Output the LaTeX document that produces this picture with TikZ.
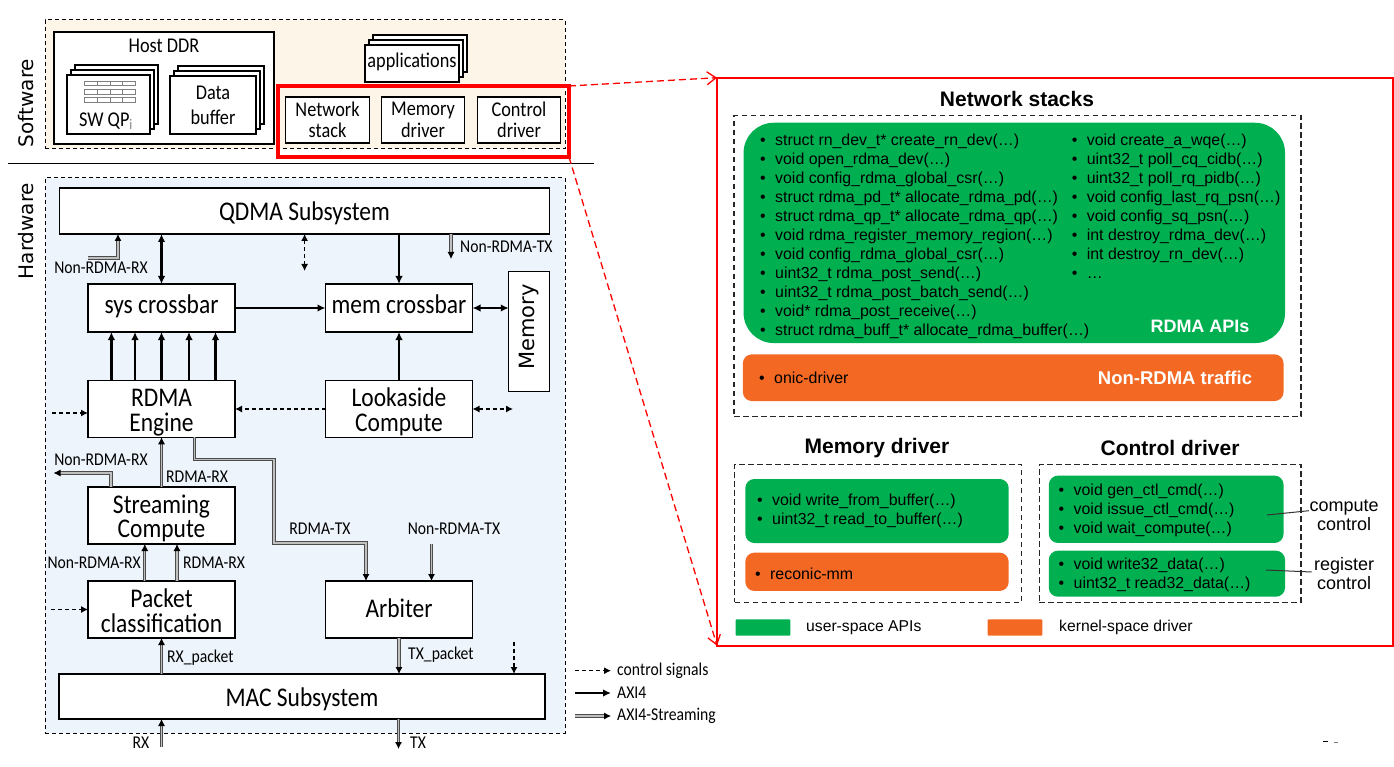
\documentclass[tikz,border=0pt]{standalone}
\usepackage{fontspec}
\usetikzlibrary{arrows.meta}
\setmainfont[FakeStretch=.87]{Carlito}
\newfontfamily\arialfont{Liberation Sans}
\newfontfamily\sidefont{DejaVu Sans}
\definecolor{apigreen}{RGB}{0,176,80}
\definecolor{drvorange}{RGB}{243,104,35}
\definecolor{swzone}{RGB}{253,246,232}
\definecolor{hwzone}{RGB}{237,244,251}
\begin{document}
\begin{tikzpicture}
[   x=1pt,y=-1pt,
    hwbox/.style={draw=black,fill=white,line width=1.1pt,inner sep=0pt,outer sep=0pt,align=center,minimum width=147pt,font=\fontsize{27}{24.5}\selectfont},
    twolines/.style={hwbox,text height=50pt,text depth=6pt},
    swbox/.style={draw=black,fill=white,line width=1.4pt,inner sep=0pt,outer sep=0pt,align=center,font=\fontsize{21}{21.5}\selectfont},
    zone/.style={draw=black,dash pattern=on 4pt off 3pt,line width=1pt,inner sep=0pt,outer sep=0pt,fill=#1},
    nbox/.style={draw=black!85,dash pattern=on 5.5pt off 3.5pt,line width=1.4pt,inner sep=0pt,outer sep=0pt},
    pill/.style={fill=#1,inner sep=0pt,outer sep=0pt,rounded corners=9pt},
    lbl/.style={inner sep=0pt,font=\fontsize{18}{18}\selectfont},
    head/.style={inner sep=0pt,font=\arialfont\bfseries\fontsize{21}{21}\selectfont},
    apitxt/.style={anchor=west,inner sep=0pt,text height=12pt,text depth=3pt,font=\arialfont\fontsize{15.9}{16}\selectfont},
    note/.style={inner sep=0pt,align=center,font=\arialfont\fontsize{18}{19}\selectfont},
    ctl/.style={dash pattern=on 4pt off 3pt,line width=1.1pt,-{Latex[length=7pt,width=7pt]}},
    axi/.style={line width=2.3pt,-{Latex[length=8pt,width=7.5pt]}},
    axis/.style={draw=black!70,double=gray!50,double distance=1.3pt,line width=.9pt,-{Latex[black,length=7pt,width=7pt]}},
    zoomline/.style={red,dash pattern=on 7pt off 4pt,line width=1.3pt,-{Straight Barb[length=9pt,width=13pt]}},
]
    \useasboundingbox (0,0) rectangle (1394,767);
    % software side
    \node[zone=swzone,minimum width=520pt,minimum height=129pt] (sw) at (305,84.5) {};
    \node[zone=hwzone,minimum width=520pt,minimum height=555pt] (hw) at (305,455.5) {};
    \coordinate (rule-a) at (8,164);
    \coordinate (rule-b) at (594,164);
    \draw[line width=1pt] (rule-a) -- (rule-b);
    \node[rotate=90,inner sep=0pt,font=\sidefont\fontsize{20}{20}\selectfont] (swname) at (26,103) {Software};
    \node[rotate=90,inner sep=0pt,font=\sidefont\fontsize{20}{20}\selectfont] (hwname) at (26,231) {Hardware};
    \node[swbox,minimum width=220pt,minimum height=112pt] (ddr) at (164,88) {};
    \node[inner sep=0pt,font=\fontsize{21}{21}\selectfont] (ddrname) at (164,46) {Host DDR};
    \foreach \d in {2,1,0}
    {   \node[swbox,minimum width=83pt,minimum height=59pt] (qp-\d) at ({108.5+4*\d},{104.5-5*\d}) {};
        \node[swbox,minimum width=86pt,minimum height=58pt] (buf-\d) at ({213+4*\d},{105-5*\d}) {};
        \node[swbox,minimum width=94pt,minimum height=37pt] (app-\d) at ({412+4*\d},{63.5-5*\d}) {};
    }
    \foreach \r in {0,1,2}
    {   \foreach \c in {0,1,2,3}
        {   \draw[draw=gray,fill=white,line width=.6pt] ({84.6+12.6*\c},{81+8.4*\r}) rectangle ++(12.6,4.8);
        }
    }
    \node[inner sep=0pt,font=\fontsize{21}{21}\selectfont] (qpname) at (106,121) {SW QP\textsubscript{\textcolor{gray}{i}}};
    \node[inner sep=0pt,align=center,font=\fontsize{21}{25}\selectfont] (bufname) at (213,105) {Data\\buffer};
    \node[inner sep=0pt,font=\fontsize{21}{21}\selectfont] (appname) at (412,62) {applications};
    \node[swbox,minimum width=83.5pt,minimum height=46pt] (netdrv) at (327.5,120) {Network\\stack};
    \node[swbox,minimum width=83.5pt,minimum height=46pt] (memdrv) at (423,120) {Memory\\driver};
    \node[swbox,minimum width=83.5pt,minimum height=46pt] (ctrldrv) at (519,120) {Control\\driver};
    \node[draw=red,line width=4pt,inner sep=0pt,outer sep=0pt,minimum width=291pt,minimum height=71pt] (drv) at (423.5,121.5) {};
    % hardware side
    \node[hwbox,minimum width=490pt,minimum height=46pt,text height=22pt,text depth=3pt] (qdma) at (304.5,211) {QDMA Subsystem};
    \node[hwbox,minimum height=48pt,text height=18pt,text depth=7pt] (sysbar) at (161.5,308) {sys crossbar};
    \node[hwbox,minimum height=48pt,text height=18pt,text depth=7pt] (membar) at (399,308) {mem crossbar};
    \node[hwbox,minimum width=40.5pt,minimum height=119.5pt] (memory) at (529,331.5) {};
    \node[rotate=90,inner sep=0pt,font=\sidefont\fontsize{21}{21}\selectfont] (memname) at (529,327) {Memory};
    \node[twolines,minimum height=56.5pt] (rdma) at (161.5,409) {RDMA\\Engine};
    \node[twolines,minimum height=56.5pt] (look) at (399,409) {Lookaside\\Compute};
    \node[twolines,minimum height=57pt] (stream) at (161.5,515.5) {Streaming\\Compute};
    \node[twolines,minimum height=57pt,text height=51pt] (packet) at (161.5,609.5) {Packet\\classification};
    \node[hwbox,minimum height=57pt,text height=20pt,text depth=5pt] (arbiter) at (399,609.5) {Arbiter};
    \node[hwbox,minimum width=486pt,minimum height=45pt,text height=22pt,text depth=2pt] (mac) at (302,696.5) {MAC Subsystem};
    % five read and write ports
    \foreach \i/\x in {1/111.4,2/135,3/161.5,4/189,5/215.5}
    {   \coordinate (port-\i) at (\x,0);
        \draw[axi] (rdma.north -| port-\i) -- (sysbar.south -| port-\i);
    }
    \draw[axi,{Latex[length=8pt,width=7.5pt]}-{Latex[length=8pt,width=7.5pt]}] (sysbar) -- (sysbar |- qdma.south);
    \draw[axi] (membar |- qdma.south) -- (membar);
    \draw[axi] (sysbar) -- (membar);
    \draw[axi,{Latex[length=8pt,width=7.5pt]}-{Latex[length=8pt,width=7.5pt]}] (membar) -- (membar -| memory.west);
    \draw[axi] (look) -- (membar);
    \coordinate (rxq-a) at (88,258);
    \coordinate (rxq-b) at (118,258);
    \draw[axis] (rxq-a) -- (rxq-b) -- (rxq-b |- qdma.south);
    \node[lbl] (rxqname) at (101,268) {Non-RDMA-RX};
    \coordinate (txq) at (451,259);
    \draw[axis] (txq |- qdma.south) -- (txq);
    \node[lbl,anchor=west] (txqname) at (460,247) {Non-RDMA-TX};
    \coordinate (cq) at (304.6,271);
    \draw[ctl,{Latex[length=7pt,width=7pt]}-{Latex[length=7pt,width=7pt]}] (cq) -- (cq |- qdma.south);
    \draw[ctl] (look) -- (look -| rdma.east);
    \coordinate (cl) at (513,409);
    \draw[ctl,{Latex[length=7pt,width=7pt]}-{Latex[length=7pt,width=7pt]}] (look.east) -- (cl);
    \coordinate (cr) at (52,413);
    \draw[ctl] (cr) -- (cr -| rdma.west);
    \draw[axis] (stream) -- (rdma);
    \node[lbl,anchor=west] (rxsname) at (166,477) {RDMA-RX};
    \coordinate (rxs-a) at (111,473);
    \coordinate (rxs-b) at (53.5,473);
    \draw[axis] (rxs-a |- stream.north) -- (rxs-a) -- (rxs-b);
    \node[lbl] (rxoname) at (101,460) {Non-RDMA-RX};
    \coordinate (tx-a) at (194.4,459.3);
    \coordinate (tx-b) at (274,459.3);
    \coordinate (tx-c) at (274,543);
    \coordinate (tx-d) at (366,543);
    \draw[axis] (tx-a |- rdma.south) -- (tx-a) -- (tx-b) -- (tx-c) -- (tx-d) -- (tx-d |- arbiter.north);
    \node[lbl] (txrname) at (320,529) {RDMA-TX};
    \coordinate (txn) at (431.5,544);
    \draw[axis] (txn) -- (txn |- arbiter.north);
    \node[lbl] (txnname) at (454,529) {Non-RDMA-TX};
    \coordinate (pk-a) at (144.8,0);
    \coordinate (pk-b) at (177,0);
    \draw[axis] (packet.north -| pk-a) -- (stream.south -| pk-a);
    \draw[axis] (packet.north -| pk-b) -- (stream.south -| pk-b);
    \node[lbl,anchor=east] (pkaname) at (141,563) {Non-RDMA-RX};
    \node[lbl,anchor=west] (pkbname) at (183,563) {RDMA-RX};
    \coordinate (cp) at (51,609.5);
    \draw[ctl] (cp) -- (packet);
    \draw[axis] (mac.north -| packet) -- (packet);
    \node[lbl,anchor=west] (rxpname) at (167,658) {RX\_packet};
    \draw[axis] (arbiter) -- (mac.north -| arbiter);
    \node[lbl,anchor=west] (txpname) at (408,655) {TX\_packet};
    \coordinate (cm) at (514,642);
    \draw[ctl] (cm) -- (cm |- mac.north);
    \coordinate (rxin) at (161.5,746.7);
    \draw[axis] (rxin) -- (rxin |- mac.south);
    \node[lbl] (rxname) at (141,743) {RX};
    \coordinate (txout) at (398.5,749);
    \draw[axis] (txout |- mac.south) -- (txout);
    \node[lbl] (txname) at (418,743) {TX};
    % legend of the links
    \foreach \n/\y/\s/\t in {a/670.7/ctl/control signals,b/693/axi/AXI4,c/716/axis/AXI4-Streaming}
    {   \coordinate (key-\n) at (575,\y);
        \node[lbl,anchor=west] (keyname-\n) at (617,\y) {\t};
        \draw[\s] (key-\n) -- (611,\y);
    }
    % APIs panel
    \node[draw=red,line width=2pt,inner sep=0pt,outer sep=0pt,minimum width=675.7pt,minimum height=568pt] (panel) at (1054.9,361.7) {};
    \draw[zoomline] (drv.north east) -- (panel.north west);
    \draw[zoomline] (drv.south east) -- (panel.south west);
    \node[head] (nettitle) at (1017,99) {Network stacks};
    \node[nbox,minimum width=567pt,minimum height=301pt] (netzone) at (1017.5,266.2) {};
    \node[pill=apigreen,rounded corners=30pt,minimum width=541.4pt,minimum height=220.3pt] (rdmaapi) at (1014.3,232.9) {};
    \foreach \t [count=\i from 0] in {struct rn\_dev\_t* create\_rn\_dev(…),void open\_rdma\_dev(…),void config\_rdma\_global\_csr(…),struct rdma\_pd\_t* allocate\_rdma\_pd(…),struct rdma\_qp\_t* allocate\_rdma\_qp(…),void rdma\_register\_memory\_region(…),void config\_rdma\_global\_csr(…),uint32\_t rdma\_post\_send(…),uint32\_t rdma\_post\_batch\_send(…),void* rdma\_post\_receive(…),struct rdma\_buff\_t* allocate\_rdma\_buffer(…)}
    {   \node[apitxt] (left-\i) at (760,{140.7+19*\i}) {\makebox[15pt][l]{•}\t};
    }
    \foreach \t [count=\i from 0] in {void create\_a\_wqe(…),uint32\_t poll\_cq\_cidb(…),uint32\_t poll\_rq\_pidb(…),void config\_last\_rq\_psn(…),void config\_sq\_psn(…),int destroy\_rdma\_dev(…),int destroy\_rn\_dev(…),…}
    {   \node[apitxt] (right-\i) at (1071.6,{140.7+19*\i}) {\makebox[15pt][l]{•}\t};
    }
    \node[head,text=white,font=\arialfont\bfseries\fontsize{18}{18}\selectfont] (apiname) at (1200,326) {RDMA APIs};
    \node[pill=drvorange,minimum width=540.7pt,minimum height=46.7pt] (onic) at (1013.2,377.7) {};
    \node[apitxt] (onicname) at (759,379) {\makebox[15pt][l]{•}onic-driver};
    \node[head,text=white,font=\arialfont\bfseries\fontsize{18.5}{18.5}\selectfont] (trafname) at (1175,377.7) {Non-RDMA traffic};
    \node[head] (memtitle) at (877,448) {Memory driver};
    \node[head] (ctltitle) at (1170,448) {Control driver};
    \node[nbox,minimum width=287pt,minimum height=138pt] (memzone) at (878.2,533.2) {};
    \node[nbox,minimum width=261.6pt,minimum height=138pt] (ctlzone) at (1170.2,533.2) {};
    \node[pill=apigreen,minimum width=263.3pt,minimum height=64pt] (memapi) at (877,511) {};
    \node[apitxt] (mem-0) at (757,501) {\makebox[15pt][l]{•}void write\_from\_buffer(…)};
    \node[apitxt] (mem-1) at (757,520) {\makebox[15pt][l]{•}uint32\_t read\_to\_buffer(…)};
    \node[pill=drvorange,minimum width=263.3pt,minimum height=38.3pt] (mm) at (877,571.8) {};
    \node[apitxt] (mmname) at (755,575) {\makebox[15pt][l]{•}reconic-mm};
    \node[pill=apigreen,minimum width=234.7pt,minimum height=67.3pt] (compute) at (1166.2,509.3) {};
    \node[pill=apigreen,minimum width=236.2pt,minimum height=46pt] (register) at (1166.9,573.7) {};
    \foreach \t [count=\i from 0] in {void gen\_ctl\_cmd(…),void issue\_ctl\_cmd(…),void wait\_compute(…)}
    {   \node[apitxt] (cmp-\i) at (1058.5,{491+19*\i}) {\makebox[15pt][l]{•}\t};
    }
    \node[apitxt] (reg-0) at (1058.5,565.3) {\makebox[15pt][l]{•}void write32\_data(…)};
    \node[apitxt] (reg-1) at (1058.5,584.3) {\makebox[15pt][l]{•}uint32\_t read32\_data(…)};
    \node[note] (cmpname) at (1344,515) {compute\\control};
    \node[note] (regname) at (1344,574) {register\\control};
    \coordinate (cmp-in) at (1267,515);
    \coordinate (cmp-out) at (1309,510.7);
    \coordinate (reg-in) at (1265.7,570);
    \coordinate (reg-out) at (1311.6,572);
    \draw[line width=1pt,black!80] (cmp-in) -- (cmp-out);
    \draw[line width=1pt,black!80] (reg-in) -- (reg-out);
    % legend of the panel
    \node[pill=apigreen,rounded corners=1pt,minimum width=54.8pt,minimum height=16.4pt] (keygreen) at (763,627.5) {};
    \node[apitxt,font=\arialfont\fontsize{15.7}{16}\selectfont] (keyuser) at (806,627) {user-space APIs};
    \node[pill=drvorange,rounded corners=1pt,minimum width=54.8pt,minimum height=16.4pt] (keyorange) at (1015,627.5) {};
    \node[apitxt,font=\arialfont\fontsize{15.7}{16}\selectfont] (keykernel) at (1059,627) {kernel-space driver};
    % specks at the bottom edge
    \draw[line width=1pt] (1323,741) -- (1328,741);
    \draw[line width=1pt,gray] (1334,742) -- (1338,742);
\end{tikzpicture}
\end{document}
